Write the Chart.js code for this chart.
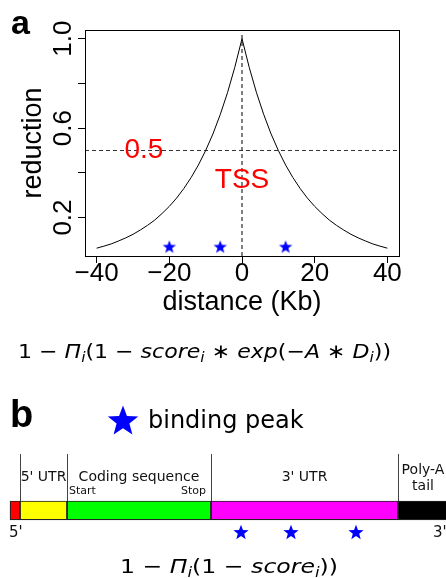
<!DOCTYPE html>
<html>
<head>
<meta charset="utf-8">
<script src="https://cdn.jsdelivr.net/npm/chart.js@4/dist/chart.umd.min.js"></script>
<style>
  html, body { margin: 0; padding: 0; background: #fff; }
  #wrap { position: relative; width: 446px; height: 578px; overflow: hidden; }
  #chartA { position: absolute; left: 0; top: 0; }
  #chartB { position: absolute; left: 0; top: 375px; }
</style>
</head>
<body>
<div id="wrap">
  <canvas id="chartA" width="446" height="375"></canvas>
  <canvas id="chartB" width="446" height="203"></canvas>
</div>
<script>
// panel a: reduction vs distance from the TSS
const distance = [-40, -38, -36, -34, -32, -30, -28, -26, -24, -22, -20, -18, -16, -14, -12, -10, -8, -6, -4, -2,
  0, 2, 4, 6, 8, 10, 12, 14, 16, 18, 20, 22, 24, 26, 28, 30, 32, 34, 36, 38, 40];
const reduction = [0.063, 0.072, 0.082, 0.095, 0.109, 0.125, 0.144, 0.165, 0.189, 0.218, 0.250, 0.287, 0.330, 0.379, 0.435, 0.500, 0.574, 0.660, 0.758, 0.871,
  1.000, 0.871, 0.758, 0.660, 0.574, 0.500, 0.435, 0.379, 0.330, 0.287, 0.250, 0.218, 0.189, 0.165, 0.144, 0.125, 0.109, 0.095, 0.082, 0.072, 0.063];
const peakDistance = [-20, -6, 12];
const peakLevel = 0.07;
const halfLevel = 0.5;
const xTicks = [-40, -20, 0, 20, 40];
const yTicks = [0.2, 0.4, 0.6, 0.8, 1.0];
const yTickLabels = ["0.2", "", "0.6", "", "1.0"];

// panel b: transcript layout (positions along the drawn transcript)
const regionLabels = [[], ["5' UTR"], ["Coding sequence"], ["3' UTR"], ["Poly-A", "tail"]];
const regionStart = [10, 20, 67, 211, 398];
const regionEnd = [20, 67, 211, 398, 448];
const regionColors = ["#ff0000", "#ffff00", "#00ff00", "#ff00ff", "#000000"];
const peakPosition = [241, 291, 356];

const formulaA = [["1 \u2212 ", "n"], ["\u03a0", "i"], ["i", "s"], ["(1 \u2212 ", "n"], ["score", "i"], ["i", "s"],
  [" \u2217 ", "n"], ["exp", "i"], ["(\u2212", "n"], ["A", "i"], [" \u2217 ", "n"], ["D", "i"], ["i", "s"], ["))", "n"]];
const formulaB = [["1 \u2212 ", "n"], ["\u03a0", "i"], ["i", "s"], ["(1 \u2212 ", "n"], ["score", "i"], ["i", "s"], ["))", "n"]];

Chart.defaults.font.family = '"Liberation Sans", Arial, sans-serif';
Chart.defaults.color = "#000";

function starImage(r, color) {
  const s = Math.ceil(r * 2 + 2);
  const c = document.createElement("canvas");
  c.width = s; c.height = s;
  const g = c.getContext("2d");
  g.translate(s / 2, s / 2 + r * 0.095);
  g.beginPath();
  for (let k = 0; k < 10; k++) {
    const rad = k % 2 ? r * 0.42 : r;
    const a = -Math.PI / 2 + k * Math.PI / 5;
    g.lineTo(rad * Math.cos(a), rad * Math.sin(a));
  }
  g.closePath();
  g.fillStyle = color;
  g.fill();
  return c;
}

function drawFormula(ctx, parts, left, baseline, size, width) {
  const fontFor = st => (st === "n" ? "" : "italic ") + (st === "s" ? size * 0.7 : size) + 'px "DejaVu Sans"';
  let total = 0;
  parts.forEach(([t, st]) => { ctx.font = fontFor(st); total += ctx.measureText(t).width; });
  ctx.save();
  ctx.translate(left, baseline);
  ctx.scale(width / total, 1);
  ctx.fillStyle = "#000";
  ctx.textAlign = "left";
  ctx.textBaseline = "alphabetic";
  let x = 0;
  parts.forEach(([t, st]) => {
    ctx.font = fontFor(st);
    ctx.fillText(t, x, st === "s" ? size * 0.2 : 0);
    x += ctx.measureText(t).width;
  });
  ctx.restore();
}

// ---- panel a ----
const panelA = {
  id: "panelA",
  afterDraw(chart) {
    const { ctx, chartArea: ca, scales: { x, y } } = chart;
    ctx.save();
    ctx.strokeStyle = "#000";
    ctx.lineWidth = 1;
    ctx.strokeRect(ca.left + 0.5, ca.top + 0.5, ca.right - ca.left, ca.bottom - ca.top);

    ctx.fillStyle = "#000";
    ctx.font = '26px "Liberation Sans"';
    ctx.textAlign = "center";
    ctx.textBaseline = "alphabetic";
    yTicks.forEach((v, i) => {
      if (!yTickLabels[i]) return;
      ctx.save();
      ctx.translate(70.5, y.getPixelForValue(v));
      ctx.rotate(-Math.PI / 2);
      ctx.fillText(yTickLabels[i], 0, 0);
      ctx.restore();
    });
    ctx.font = '27px "Liberation Sans"';
    ctx.save();
    ctx.translate(40.5, (ca.top + ca.bottom) / 2);
    ctx.rotate(-Math.PI / 2);
    ctx.fillText("reduction", 0, 0);
    ctx.restore();

    ctx.fillStyle = "#ff0000";
    ctx.font = '28px "Liberation Sans"';
    ctx.textBaseline = "middle";
    ctx.fillText("0.5", x.getPixelForValue(-27), y.getPixelForValue(halfLevel));
    ctx.fillText("TSS", x.getPixelForValue(0), y.getPixelForValue(0.368));

    ctx.fillStyle = "#000";
    ctx.textAlign = "left";
    ctx.textBaseline = "alphabetic";
    ctx.font = 'bold 34px "Liberation Sans"';
    ctx.fillText("a", 11, 34);
    ctx.restore();

    drawFormula(ctx, formulaA, 18, 358, 20, 373);
  }
};

new Chart(document.getElementById("chartA"), {
  type: "scatter",
  data: {
    datasets: [
      {
        data: distance.map((d, i) => ({ x: d, y: reduction[i] })),
        showLine: true, borderColor: "#000", borderWidth: 1, pointRadius: 0
      },
      {
        data: [{ x: -43.2, y: halfLevel }, { x: 43.2, y: halfLevel }],
        showLine: true, borderColor: "#333", borderWidth: 1, borderDash: [4, 3], pointRadius: 0
      },
      {
        data: [{ x: 0, y: 0.028 }, { x: 0, y: 1.017 }],
        showLine: true, borderColor: "#555", borderWidth: 1.5, borderDash: [4, 3], pointRadius: 0
      },
      {
        data: peakDistance.map(d => ({ x: d, y: peakLevel })),
        pointStyle: starImage(7, "#0000ff"), pointRadius: 7
      }
    ]
  },
  options: {
    responsive: false,
    animation: false,
    events: [],
    layout: { autoPadding: false, padding: { top: 30, right: 47, bottom: 55, left: 0 } },
    plugins: { legend: { display: false }, tooltip: { enabled: false } },
    scales: {
      x: {
        type: "linear", min: -43.2, max: 43.2,
        afterBuildTicks: s => { s.ticks = xTicks.map(v => ({ value: v })); },
        afterFit: s => { s.height = 64; },
        ticks: {
          autoSkip: false, maxRotation: 0, padding: -5,
          font: { size: 26 }, color: "#000",
          callback: v => (v < 0 ? "\u2212" + Math.abs(v) : String(v))
        },
        grid: { drawOnChartArea: false, drawTicks: true, tickLength: 7, color: "#000", lineWidth: 1 },
        border: { display: true, color: "#000", width: 1 },
        title: { display: true, text: "distance (Kb)", font: { size: 27 }, color: "#000", padding: { top: 0, bottom: 1 } }
      },
      y: {
        type: "linear", min: 0.028, max: 1.039,
        afterBuildTicks: s => { s.ticks = yTicks.map(v => ({ value: v })); },
        afterFit: s => { s.width = 85; },
        ticks: { display: false },
        grid: { drawOnChartArea: false, drawTicks: true, tickLength: 7, color: "#000", lineWidth: 1 },
        border: { display: true, color: "#000", width: 1 }
      }
    }
  },
  plugins: [panelA]
});

// ---- panel b ----
const panelB = {
  id: "panelB",
  afterDatasetsDraw(chart) {
    const { ctx, scales: { x, y } } = chart;
    const barTop = y.getPixelForValue(0) - 9.5;
    const barBottom = barTop + 19;
    ctx.save();
    ctx.strokeStyle = "#444";
    ctx.lineWidth = 1;
    for (let i = 1; i < regionStart.length; i++) {
      const px = Math.round(x.getPixelForValue(regionStart[i])) + 0.5;
      ctx.beginPath();
      ctx.moveTo(px, barTop - 47);
      ctx.lineTo(px, barTop);
      ctx.stroke();
    }

    ctx.fillStyle = "#111";
    ctx.textBaseline = "alphabetic";
    ctx.textAlign = "center";
    ctx.font = '14px "DejaVu Sans"';
    regionLabels.forEach((lines, i) => {
      const cx = x.getPixelForValue((regionStart[i] + regionEnd[i]) / 2);
      if (lines.length === 1) ctx.fillText(lines[0], cx, barTop - 20);
      if (lines.length === 2) {
        ctx.fillText(lines[0], cx, barTop - 27);
        ctx.fillText(lines[1], cx, barTop - 11);
      }
    });
    ctx.font = '11px "DejaVu Sans"';
    ctx.textAlign = "left";
    ctx.fillText("Start", x.getPixelForValue(regionStart[2]) + 2, barTop - 7);
    ctx.textAlign = "right";
    ctx.fillText("Stop", x.getPixelForValue(regionEnd[2]) - 5, barTop - 7);

    ctx.font = '15px "DejaVu Sans"';
    ctx.textAlign = "left";
    ctx.fillText("5'", x.getPixelForValue(regionStart[0]) - 1, barBottom + 17);
    ctx.fillText("3'", 433, barBottom + 17);

    // legend
    ctx.fillStyle = "#000";
    ctx.font = 'bold 38px "Liberation Sans"';
    ctx.fillText("b", 10, 52);
    const legendStar = starImage(16, "#0000ff");
    ctx.drawImage(legendStar, 123 - legendStar.width / 2, 45 - legendStar.height / 2);
    ctx.font = '24px "DejaVu Sans"';
    ctx.fillText("binding peak", 148, 53);
    ctx.restore();

    drawFormula(ctx, formulaB, 120, 198, 20, 218);
  }
};

new Chart(document.getElementById("chartB"), {
  type: "bar",
  data: {
    datasets: [
      ...regionStart.map((s, i) => ({
        type: "bar",
        indexAxis: "y",
        data: [{ x: [s, regionEnd[i]], y: 0 }],
        backgroundColor: regionColors[i],
        borderColor: "#222",
        borderWidth: 1.2,
        borderSkipped: false,
        barThickness: 19,
        grouped: false
      })),
      {
        type: "scatter",
        data: peakPosition.map(p => ({ x: p, y: -1 })),
        pointStyle: starImage(8, "#0000ff"),
        pointRadius: 8
      }
    ]
  },
  options: {
    responsive: false,
    animation: false,
    events: [],
    layout: { autoPadding: false, padding: 0 },
    plugins: { legend: { display: false }, tooltip: { enabled: false } },
    scales: {
      x: { type: "linear", min: 0, max: 446, offset: false, display: false },
      y: { type: "linear", min: -3.14, max: 6.30, offset: false, display: false }
    }
  },
  plugins: [panelB]
});
</script>
</body>
</html>
